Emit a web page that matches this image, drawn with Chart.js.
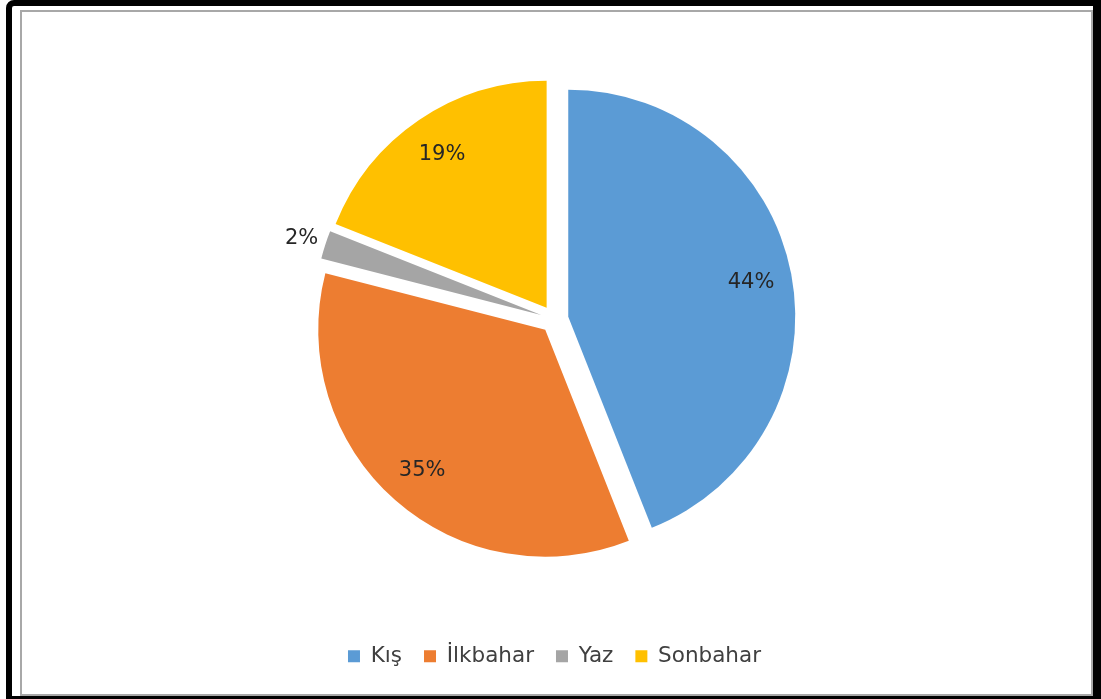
<!DOCTYPE html>
<html lang="tr">
<head>
  <meta charset="UTF-8">
  <title>Mevsimlere göre dağılım</title>
  <script src="https://cdn.jsdelivr.net/npm/chart.js"></script>
  <style>
    html, body { margin: 0; padding: 0; background: #fff; }
    body { width: 1101px; height: 699px; position: relative; overflow: hidden; }
    .frame-outer {
      position: absolute; left: 6px; top: 0; width: 1095px; height: 699px;
      box-sizing: border-box; border-style: solid; border-color: #000;
      border-width: 6px 8px 3px 6px; border-top-left-radius: 8px;
      pointer-events: none; z-index: 2;
    }
    .frame-inner {
      position: absolute; left: 20px; top: 10px; width: 1073px; height: 686px;
      box-sizing: border-box; border: 2px solid #a8a8a8;
      pointer-events: none; z-index: 2;
    }
    #chartWrap { position: absolute; left: 0; top: 0; width: 1101px; height: 699px; z-index: 1; }
  </style>
</head>
<body>
  <div id="chartWrap"><canvas id="pieChart"></canvas></div>
  <div class="frame-outer"></div>
  <div class="frame-inner"></div>

  <script>
    // veriler
    const seasons = ['Kış', 'İlkbahar', 'Yaz', 'Sonbahar'];
    const shares = [44, 35, 2, 19];
    const percentLabels = ['44%', '35%', '2%', '19%'];
    const sliceColors = ['#5b9bd5', '#ed7d31', '#a5a5a5', '#ffc000'];

    const FONT = '"DejaVu Sans", sans-serif';
    const EXPLODE = 14; // px, her dilim kendi açıortayı boyunca kaydırılır (Excel gibi, yarıçap büyümeden)

    // dilimleri patlat: Chart.js'in çizdiği yayı sadece ötele
    const explodePlugin = {
      id: 'explode',
      afterUpdate(chart) {
        chart.getDatasetMeta(0).data.forEach(arc => {
          if (arc._exploded) return;
          const draw = arc.draw;
          arc.draw = function (ctx, area) {
            const mid = (this.startAngle + this.endAngle) / 2;
            ctx.save();
            ctx.translate(Math.cos(mid) * EXPLODE, Math.sin(mid) * EXPLODE);
            draw.call(this, ctx, area);
            ctx.restore();
          };
          arc._exploded = true;
        });
      }
    };

    // yüzde etiketlerini dilimlerin üstüne yaz
    const percentPlugin = {
      id: 'percentLabels',
      afterDatasetsDraw(chart) {
        const ctx = chart.ctx;
        const meta = chart.getDatasetMeta(0);
        ctx.save();
        ctx.font = '21px ' + FONT;
        ctx.fillStyle = '#262626';
        ctx.textAlign = 'center';
        ctx.textBaseline = 'middle';
        meta.data.forEach((arc, i) => {
          const p = arc.getProps(['x', 'y', 'startAngle', 'endAngle', 'outerRadius']);
          const mid = (p.startAngle + p.endAngle) / 2;
          const outside = shares[i] < 5;
          const dist = EXPLODE + p.outerRadius * (outside ? 1.11 : 0.82);
          ctx.fillText(percentLabels[i], p.x + Math.cos(mid) * dist, p.y + Math.sin(mid) * dist + 1);
        });
        ctx.restore();
      }
    };

    new Chart(document.getElementById('pieChart'), {
      type: 'pie',
      data: {
        labels: seasons,
        datasets: [{
          data: shares,
          backgroundColor: sliceColors,
          borderWidth: 0,
          radius: 227
        }]
      },
      options: {
        responsive: true,
        maintainAspectRatio: false,
        animation: false,
        layout: { padding: { left: 8, right: 0, top: 15, bottom: 22 } },
        plugins: {
          tooltip: { enabled: false },
          legend: {
            position: 'bottom',
            labels: {
              boxWidth: 12,
              boxHeight: 12,
              padding: 22,
              color: '#404040',
              font: { family: FONT, size: 21.5 }
            }
          }
        }
      },
      plugins: [explodePlugin, percentPlugin]
    });
  </script>
</body>
</html>
